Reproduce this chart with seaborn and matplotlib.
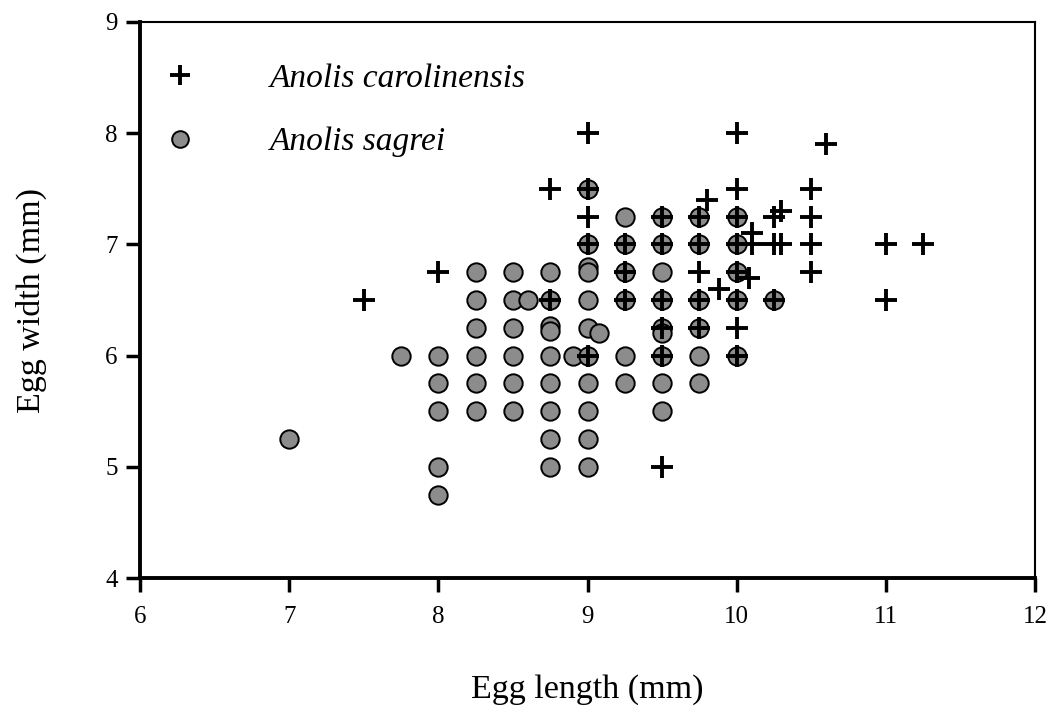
import matplotlib
matplotlib.use("Agg")
import matplotlib.pyplot as plt
import seaborn as sns
import pandas as pd
from matplotlib.lines import Line2D

# Anolis sagrei eggs (length, width) in mm
sagrei_length = [7.0, 7.75,
                 8.0, 8.0, 8.0, 8.0, 8.0,
                 8.25, 8.25, 8.25, 8.25, 8.25, 8.25,
                 8.5, 8.5, 8.6, 8.5, 8.5, 8.5, 8.5,
                 8.75, 8.75, 8.75, 8.75, 8.75, 8.75, 8.75, 8.75, 8.75,
                 8.9,
                 9.0, 9.0, 9.0, 9.0, 9.0, 9.0, 9.0, 9.0, 9.0, 9.0, 9.0,
                 9.08,
                 9.25, 9.25, 9.25, 9.25, 9.25, 9.25,
                 9.5, 9.5, 9.5, 9.5, 9.5, 9.5, 9.5, 9.5, 9.5,
                 9.75, 9.75, 9.75, 9.75, 9.75, 9.75,
                 10.0, 10.0, 10.0, 10.0, 10.0,
                 10.25]
sagrei_width = [5.25, 6.0,
                6.0, 5.75, 5.5, 5.0, 4.75,
                6.75, 6.5, 6.25, 6.0, 5.75, 5.5,
                6.75, 6.5, 6.5, 6.25, 6.0, 5.75, 5.5,
                6.75, 6.5, 6.27, 6.22, 6.0, 5.75, 5.5, 5.25, 5.0,
                6.0,
                7.5, 7.0, 6.8, 6.75, 6.5, 6.25, 6.0, 5.75, 5.5, 5.25, 5.0,
                6.2,
                7.25, 7.0, 6.75, 6.5, 6.0, 5.75,
                7.25, 7.0, 6.75, 6.5, 6.25, 6.2, 6.0, 5.75, 5.5,
                7.25, 7.0, 6.5, 6.25, 6.0, 5.75,
                7.25, 7.0, 6.75, 6.5, 6.0,
                6.5]

# Anolis carolinensis eggs (length, width) in mm
carol_length = [7.5, 8.0, 8.75, 8.75,
                9.0, 9.0, 9.0, 9.0, 9.0,
                9.25, 9.25, 9.25,
                9.5, 9.5, 9.5, 9.5, 9.5, 9.5,
                9.75, 9.75, 9.75, 9.75, 9.75, 9.8, 9.88,
                10.0, 10.0, 10.0, 10.0, 10.0, 10.0, 10.0, 10.0,
                10.1, 10.1, 10.08,
                10.25, 10.3, 10.25, 10.3, 10.25,
                10.5, 10.5, 10.5, 10.5, 10.6,
                11.0, 11.0, 11.25]
carol_width = [6.5, 6.75, 7.5, 6.5,
               8.0, 7.5, 7.25, 7.0, 6.0,
               7.0, 6.75, 6.5,
               7.25, 7.0, 6.5, 6.25, 6.0, 5.0,
               7.25, 7.0, 6.75, 6.5, 6.25, 7.4, 6.6,
               8.0, 7.5, 7.25, 7.0, 6.75, 6.5, 6.25, 6.0,
               7.1, 7.0, 6.7,
               7.25, 7.3, 7.0, 7.0, 6.5,
               7.5, 7.25, 7.0, 6.75, 7.9,
               7.0, 6.5, 7.0]

sagrei = pd.DataFrame({'length': sagrei_length, 'width': sagrei_width})
carol = pd.DataFrame({'length': carol_length, 'width': carol_width})

sns.set_style("white")
plt.rcParams['font.family'] = ['Liberation Serif', 'DejaVu Serif']
plt.rcParams['text.color'] = 'black'
plt.rcParams['axes.labelcolor'] = 'black'

fig = plt.figure(figsize=(10.49, 7.05), dpi=100)
ax = fig.add_axes([0.1335, 0.180, 0.8532, 0.7888])

sns.scatterplot(data=sagrei, x='length', y='width', ax=ax, marker='o', s=175,
                color='#8c8c8c', edgecolor='black', linewidth=1.4, zorder=2)
sns.scatterplot(data=carol, x='length', y='width', ax=ax, marker='+', s=250,
                color='black', linewidth=2.8, zorder=3)

ax.set_xlim(6, 12)
ax.set_ylim(4, 9)
ax.set_xticks([6, 7, 8, 9, 10, 11, 12])
ax.set_yticks([4, 5, 6, 7, 8, 9])
ax.tick_params(axis='both', direction='out', length=10, width=2.5,
               labelsize=18, colors='black')
ax.tick_params(axis='x', pad=10)
ax.tick_params(axis='y', pad=6)
ax.tick_params(top=False, right=False, bottom=True, left=True)
for side in ['left', 'bottom']:
    ax.spines[side].set_linewidth(2.8)
for side in ['top', 'right']:
    ax.spines[side].set_linewidth(1.5)
for sp in ax.spines.values():
    sp.set_color('black')

ax.set_xlabel('Egg length (mm)', fontsize=24.5, labelpad=33)
ax.set_ylabel('Egg width (mm)', fontsize=24.5, labelpad=42)

handles = [
    Line2D([], [], marker='+', linestyle='none', color='black',
           markersize=15, markeredgewidth=2.8),
    Line2D([], [], marker='o', linestyle='none', markerfacecolor='#8c8c8c',
           markeredgecolor='black', markeredgewidth=1.4, markersize=12),
]
ax.legend(handles, ['Anolis carolinensis', 'Anolis sagrei'],
          loc='upper left', bbox_to_anchor=(-0.019, 0.998), frameon=False,
          prop={'family': 'Liberation Serif', 'style': 'italic', 'size': 24},
          borderpad=0.7, handlelength=1.0, handletextpad=2.2,
          labelspacing=1.0)

fig.savefig('out.png', dpi=100)
